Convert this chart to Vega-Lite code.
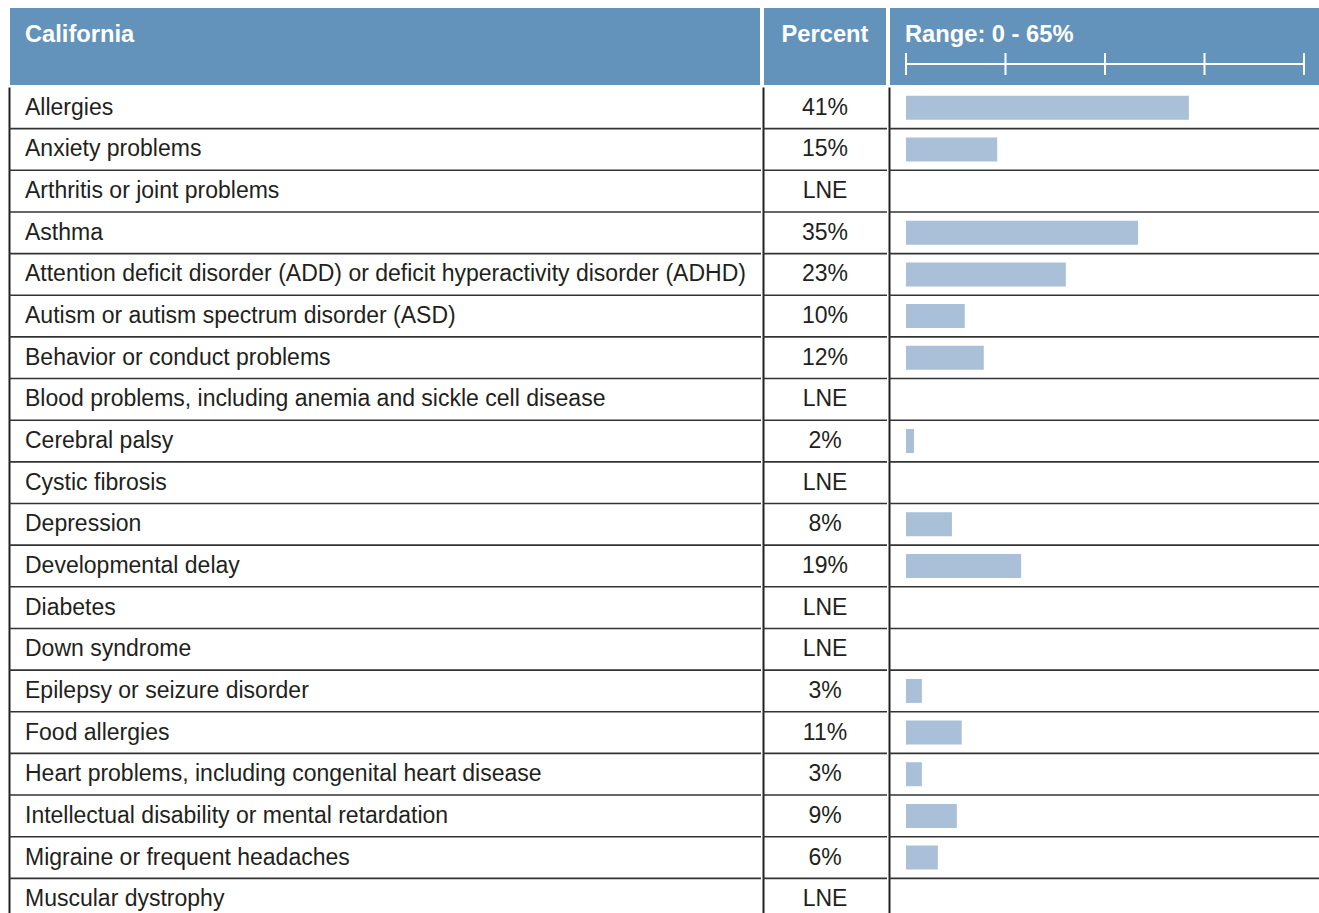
{
  "$schema": "https://vega.github.io/schema/vega-lite/v6.json",
  "background": "#ffffff",
  "padding": {"left": 8, "top": 6, "right": 0, "bottom": 0},
  "spacing": 0,
  "config": {
    "view": {"stroke": null},
    "font": "Liberation Sans",
    "axisY": {
      "title": null,
      "labels": false,
      "ticks": false,
      "domain": true,
      "domainColor": "#231f20",
      "domainWidth": 2,
      "grid": false
    }
  },
  "datasets": {
    "rows": [
      {"condition": "Allergies", "pct": "41%", "bar": 46.2},
      {"condition": "Anxiety problems", "pct": "15%", "bar": 14.9},
      {"condition": "Arthritis or joint problems", "pct": "LNE", "bar": null},
      {"condition": "Asthma", "pct": "35%", "bar": 37.9},
      {"condition": "Attention deficit disorder (ADD) or deficit hyperactivity disorder (ADHD)", "pct": "23%", "bar": 26.1},
      {"condition": "Autism or autism spectrum disorder (ASD)", "pct": "10%", "bar": 9.6},
      {"condition": "Behavior or conduct problems", "pct": "12%", "bar": 12.7},
      {"condition": "Blood problems, including anemia and sickle cell disease", "pct": "LNE", "bar": null},
      {"condition": "Cerebral palsy", "pct": "2%", "bar": 1.3},
      {"condition": "Cystic fibrosis", "pct": "LNE", "bar": null},
      {"condition": "Depression", "pct": "8%", "bar": 7.5},
      {"condition": "Developmental delay", "pct": "19%", "bar": 18.8},
      {"condition": "Diabetes", "pct": "LNE", "bar": null},
      {"condition": "Down syndrome", "pct": "LNE", "bar": null},
      {"condition": "Epilepsy or seizure disorder", "pct": "3%", "bar": 2.6},
      {"condition": "Food allergies", "pct": "11%", "bar": 9.1},
      {"condition": "Heart problems, including congenital heart disease", "pct": "3%", "bar": 2.6},
      {"condition": "Intellectual disability or mental retardation", "pct": "9%", "bar": 8.3},
      {"condition": "Migraine or frequent headaches", "pct": "6%", "bar": 5.2},
      {"condition": "Muscular dystrophy", "pct": "LNE", "bar": null}
    ],
    "heads": [
      {"col": "label", "title": "California"},
      {"col": "pct", "title": "Percent"},
      {"col": "bar", "title": "Range: 0 - 65%"}
    ],
    "ticks": [{"v": 0}, {"v": 16.25}, {"v": 32.5}, {"v": 48.75}, {"v": 65}]
  },
  "hconcat": [
    {
      "spacing": 0,
      "vconcat": [
        {
          "width": 752,
          "height": 79,
          "view": {"fill": "#6393BA", "stroke": "#ffffff", "strokeWidth": 2},
          "data": {"name": "heads"},
          "transform": [{"filter": "datum.col === 'label'"}],
          "mark": {"type": "text", "align": "left", "baseline": "alphabetic", "x": 16, "y": 35, "fontSize": 23.7, "fontWeight": "bold", "color": "#ffffff"},
          "encoding": {"text": {"field": "title"}}
        },
        {
          "width": 752,
          "height": 833,
          "data": {"name": "rows"},
          "layer": [
            {
              "mark": {"type": "text", "align": "left", "baseline": "middle", "x": 16, "fontSize": 23, "color": "#231f20"},
              "encoding": {
                "y": {"field": "condition", "type": "nominal", "sort": null, "scale": {"paddingInner": 0, "paddingOuter": 0}},
                "text": {"field": "condition"}
              }
            },
            {
              "mark": {"type": "rule", "color": "#333333", "strokeWidth": 1.6},
              "encoding": {
                "y": {"field": "condition", "type": "nominal", "sort": null, "bandPosition": 1}
              }
            }
          ]
        }
      ]
    },
    {
      "spacing": 0,
      "vconcat": [
        {
          "width": 124,
          "height": 79,
          "view": {"fill": "#6393BA", "stroke": "#ffffff", "strokeWidth": 2},
          "data": {"name": "heads"},
          "transform": [{"filter": "datum.col === 'pct'"}],
          "mark": {"type": "text", "align": "center", "baseline": "alphabetic", "y": 35, "fontSize": 23.7, "fontWeight": "bold", "color": "#ffffff"},
          "encoding": {"text": {"field": "title"}}
        },
        {
          "width": 124,
          "height": 833,
          "data": {"name": "rows"},
          "layer": [
            {
              "mark": {"type": "text", "align": "center", "baseline": "middle", "fontSize": 23, "color": "#231f20"},
              "encoding": {
                "y": {"field": "condition", "type": "nominal", "sort": null, "scale": {"paddingInner": 0, "paddingOuter": 0}},
                "text": {"field": "pct"}
              }
            },
            {
              "mark": {"type": "rule", "color": "#333333", "strokeWidth": 1.6},
              "encoding": {
                "y": {"field": "condition", "type": "nominal", "sort": null, "bandPosition": 1}
              }
            }
          ]
        }
      ]
    },
    {
      "spacing": 0,
      "vconcat": [
        {
          "width": 431,
          "height": 79,
          "view": {"fill": "#6393BA", "stroke": "#ffffff", "strokeWidth": 2},
          "layer": [
            {
              "data": {"name": "heads"},
              "transform": [{"filter": "datum.col === 'bar'"}],
              "mark": {"type": "text", "align": "left", "baseline": "alphabetic", "x": 16, "y": 35, "fontSize": 23.7, "fontWeight": "bold", "color": "#ffffff"},
              "encoding": {"text": {"field": "title"}}
            },
            {
              "data": {"name": "ticks"},
              "mark": {"type": "rule", "color": "#ffffff", "strokeWidth": 2},
              "encoding": {
                "x": {"aggregate": "min", "field": "v", "type": "quantitative", "scale": {"domain": [-2.776, 67.612], "nice": false, "zero": false}, "axis": null},
                "x2": {"aggregate": "max", "field": "v"},
                "y": {"value": 57}
              }
            },
            {
              "data": {"name": "ticks"},
              "mark": {"type": "rule", "color": "#ffffff", "strokeWidth": 2},
              "encoding": {
                "x": {"field": "v", "type": "quantitative", "scale": {"domain": [-2.776, 67.612], "nice": false, "zero": false}, "axis": null},
                "y": {"value": 46},
                "y2": {"value": 68}
              }
            }
          ]
        },
        {
          "width": 431,
          "height": 833,
          "data": {"name": "rows"},
          "layer": [
            {
              "mark": {"type": "bar", "height": 24, "color": "#A9C0D8"},
              "encoding": {
                "y": {
                  "field": "condition",
                  "type": "nominal",
                  "sort": null,
                  "scale": {
                    "paddingInner": 0,
                    "paddingOuter": 0,
                    "domain": [
                      "Allergies",
                      "Anxiety problems",
                      "Arthritis or joint problems",
                      "Asthma",
                      "Attention deficit disorder (ADD) or deficit hyperactivity disorder (ADHD)",
                      "Autism or autism spectrum disorder (ASD)",
                      "Behavior or conduct problems",
                      "Blood problems, including anemia and sickle cell disease",
                      "Cerebral palsy",
                      "Cystic fibrosis",
                      "Depression",
                      "Developmental delay",
                      "Diabetes",
                      "Down syndrome",
                      "Epilepsy or seizure disorder",
                      "Food allergies",
                      "Heart problems, including congenital heart disease",
                      "Intellectual disability or mental retardation",
                      "Migraine or frequent headaches",
                      "Muscular dystrophy"
                    ]
                  }
                },
                "x": {"field": "bar", "type": "quantitative", "scale": {"domain": [-2.776, 67.612], "nice": false, "zero": false}, "axis": null}
              }
            },
            {
              "mark": {"type": "rule", "color": "#333333", "strokeWidth": 1.6},
              "encoding": {
                "y": {"field": "condition", "type": "nominal", "sort": null, "bandPosition": 1}
              }
            }
          ]
        }
      ]
    }
  ]
}
